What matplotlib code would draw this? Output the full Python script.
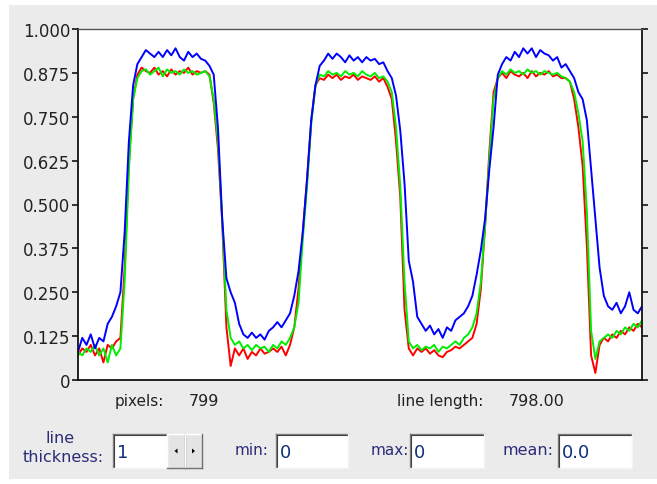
import numpy as np
import matplotlib.pyplot as plt
from matplotlib.patches import Rectangle, Polygon

W, H = 657, 485

# profile samples, one every 6 pixels along the 799 px line
x = np.arange(0, 799, 6)

red = [0.07, 0.09, 0.08, 0.10, 0.07, 0.09, 0.05, 0.10, 0.09, 0.11,
       0.12, 0.32, 0.62, 0.80, 0.87, 0.89, 0.88, 0.875, 0.89, 0.87,
       0.88, 0.865, 0.885, 0.87, 0.88, 0.875, 0.89, 0.87, 0.88, 0.875,
       0.88, 0.87, 0.79, 0.66, 0.45, 0.15, 0.04, 0.09, 0.07, 0.09,
       0.06, 0.08, 0.07, 0.09, 0.075, 0.08, 0.09, 0.08, 0.095, 0.07,
       0.10, 0.15, 0.26, 0.42, 0.57, 0.74, 0.84, 0.86, 0.855, 0.87,
       0.86, 0.87, 0.855, 0.865, 0.86, 0.87, 0.855, 0.865, 0.86, 0.855,
       0.865, 0.85, 0.86, 0.835, 0.80, 0.68, 0.52, 0.20, 0.09, 0.07,
       0.09, 0.08, 0.09, 0.075, 0.085, 0.07, 0.065, 0.08, 0.085, 0.095,
       0.09, 0.10, 0.11, 0.12, 0.16, 0.26, 0.44, 0.65, 0.82, 0.86,
       0.875, 0.86, 0.88, 0.87, 0.865, 0.875, 0.86, 0.88, 0.865, 0.875,
       0.87, 0.88, 0.865, 0.87, 0.86, 0.86, 0.85, 0.80, 0.72, 0.61,
       0.38, 0.07, 0.02, 0.10, 0.12, 0.11, 0.13, 0.12, 0.14, 0.13,
       0.15, 0.14, 0.16, 0.15]

green = [0.08, 0.07, 0.09, 0.08, 0.10, 0.07, 0.09, 0.05, 0.10, 0.07,
         0.09, 0.28, 0.60, 0.80, 0.86, 0.88, 0.885, 0.87, 0.88, 0.89,
         0.865, 0.885, 0.875, 0.88, 0.87, 0.885, 0.875, 0.88, 0.87, 0.875,
         0.88, 0.865, 0.80, 0.68, 0.46, 0.20, 0.12, 0.10, 0.11, 0.09,
         0.10, 0.085, 0.10, 0.09, 0.095, 0.08, 0.10, 0.09, 0.11, 0.10,
         0.12, 0.15, 0.22, 0.40, 0.55, 0.73, 0.84, 0.87, 0.865, 0.88,
         0.87, 0.875, 0.865, 0.88, 0.87, 0.875, 0.865, 0.88, 0.87, 0.865,
         0.875, 0.86, 0.865, 0.85, 0.82, 0.72, 0.55, 0.28, 0.11, 0.09,
         0.10, 0.085, 0.095, 0.09, 0.10, 0.08, 0.095, 0.09, 0.10, 0.11,
         0.10, 0.12, 0.13, 0.15, 0.19, 0.28, 0.44, 0.63, 0.80, 0.86,
         0.88, 0.87, 0.885, 0.875, 0.88, 0.87, 0.885, 0.875, 0.88, 0.87,
         0.88, 0.875, 0.87, 0.875, 0.865, 0.86, 0.85, 0.82, 0.76, 0.68,
         0.48, 0.14, 0.06, 0.11, 0.12, 0.13, 0.12, 0.14, 0.13, 0.15,
         0.14, 0.16, 0.15, 0.17]

blue = [0.08, 0.12, 0.10, 0.13, 0.09, 0.12, 0.11, 0.16, 0.18, 0.21,
        0.25, 0.42, 0.68, 0.84, 0.90, 0.92, 0.94, 0.93, 0.92, 0.935,
        0.92, 0.94, 0.925, 0.945, 0.92, 0.91, 0.935, 0.92, 0.93, 0.915,
        0.91, 0.895, 0.87, 0.72, 0.46, 0.29, 0.25, 0.22, 0.16, 0.13,
        0.12, 0.135, 0.12, 0.13, 0.115, 0.14, 0.15, 0.165, 0.15, 0.17,
        0.19, 0.24, 0.31, 0.42, 0.57, 0.74, 0.84, 0.895, 0.91, 0.93,
        0.915, 0.93, 0.92, 0.905, 0.925, 0.91, 0.92, 0.905, 0.92, 0.91,
        0.915, 0.90, 0.905, 0.88, 0.86, 0.81, 0.71, 0.56, 0.34, 0.28,
        0.18, 0.16, 0.14, 0.155, 0.13, 0.145, 0.12, 0.15, 0.14, 0.17,
        0.18, 0.19, 0.21, 0.24, 0.30, 0.37, 0.46, 0.60, 0.72, 0.87,
        0.90, 0.92, 0.91, 0.935, 0.92, 0.945, 0.93, 0.945, 0.92, 0.94,
        0.93, 0.925, 0.91, 0.92, 0.89, 0.90, 0.88, 0.86, 0.82, 0.80,
        0.74, 0.60, 0.46, 0.32, 0.24, 0.21, 0.20, 0.22, 0.19, 0.21,
        0.25, 0.20, 0.19, 0.21]

yticks = [0, 0.125, 0.25, 0.375, 0.5, 0.625, 0.75, 0.875, 1.0]
ytick_labels = ['0', '0.125', '0.250', '0.375', '0.500', '0.625', '0.750', '0.875', '1.000']

LABEL = '#222222'
NAVY = '#2b2b78'
BOXTEXT = '#10307a'


def sunken_box(a, x0, y0, x1, y1):
    a.add_patch(Rectangle((x0, y0), x1 - x0, y1 - y0, facecolor='white', edgecolor='none'))
    a.plot([x0, x1], [y0, y0], color='#808080', lw=1)
    a.plot([x0, x0], [y0, y1], color='#808080', lw=1)
    a.plot([x0 + 1, x1 - 1], [y0 + 1, y0 + 1], color='#404040', lw=0.8)
    a.plot([x0 + 1, x0 + 1], [y0 + 1, y1 - 1], color='#404040', lw=0.8)
    a.plot([x0, x1], [y1, y1], color='#f4f4f4', lw=1)
    a.plot([x1, x1], [y0, y1], color='#f4f4f4', lw=1)


def raised_button(a, x0, y0, x1, y1, left):
    a.add_patch(Rectangle((x0, y0), x1 - x0, y1 - y0, facecolor='#e4e4e4', edgecolor='none'))
    a.plot([x0, x1], [y0, y0], color='white', lw=1)
    a.plot([x0, x0], [y0, y1], color='white', lw=1)
    a.plot([x0, x1], [y1, y1], color='#707070', lw=1)
    a.plot([x1, x1], [y0, y1], color='#707070', lw=1)
    cx, cy = (x0 + x1) / 2, (y0 + y1) / 2
    if left:
        tri = [(cx + 1.5, cy - 2.5), (cx + 1.5, cy + 2.5), (cx - 1.5, cy)]
    else:
        tri = [(cx - 1.5, cy - 2.5), (cx - 1.5, cy + 2.5), (cx + 1.5, cy)]
    a.add_patch(Polygon(tri, closed=True, facecolor='black', edgecolor='none'))


fig = plt.figure(figsize=(W / 100, H / 100), dpi=100, facecolor='white')

# window background and controls, drawn in pixel coordinates
bg = fig.add_axes([0, 0, 1, 1], zorder=0)
bg.set_xlim(0, W)
bg.set_ylim(H, 0)
bg.axis('off')
bg.add_patch(Rectangle((9, 6), W - 9, 474, facecolor='#ebebeb', edgecolor='none'))

bg.text(115, 402, 'pixels:', ha='left', va='center', fontsize=11, color=LABEL)
bg.text(189, 402, '799', ha='left', va='center', fontsize=11.5, color=LABEL)
bg.text(397, 402, 'line length:', ha='left', va='center', fontsize=11, color=LABEL)
bg.text(509, 402, '798.00', ha='left', va='center', fontsize=11.5, color=LABEL)

bg.text(60, 439, 'line', ha='center', va='center', fontsize=11.5, color=NAVY)
bg.text(104, 458, 'thickness:', ha='right', va='center', fontsize=11.5, color=NAVY)
bg.text(269, 451, 'min:', ha='right', va='center', fontsize=11, color=NAVY)
bg.text(409, 451, 'max:', ha='right', va='center', fontsize=11, color=NAVY)
bg.text(554, 451, 'mean:', ha='right', va='center', fontsize=11.5, color=NAVY)

sunken_box(bg, 113, 435, 167, 469)
raised_button(bg, 167, 435, 185, 469, True)
raised_button(bg, 185, 435, 202, 469, False)
sunken_box(bg, 276, 435, 348, 469)
sunken_box(bg, 410, 435, 484, 469)
sunken_box(bg, 558, 435, 632, 469)

bg.text(117, 453, '1', ha='left', va='center', fontsize=13, color=BOXTEXT)
bg.text(280, 453, '0', ha='left', va='center', fontsize=13, color=BOXTEXT)
bg.text(414, 453, '0', ha='left', va='center', fontsize=13, color=BOXTEXT)
bg.text(562, 453, '0.0', ha='left', va='center', fontsize=13, color=BOXTEXT)

# profile plot
ax = fig.add_axes([78 / W, 1 - 381 / H, 564 / W, 351 / H], zorder=1)
ax.set_facecolor('white')
ax.plot(x, red, color='#ff0000', lw=1.4)
ax.plot(x, green, color='#00ee00', lw=1.4)
ax.plot(x, blue, color='#0000ff', lw=1.4)

ax.set_xlim(0, 798)
ax.set_ylim(0, 1)
ax.set_xticks([])
ax.set_yticks(yticks)
ax.set_yticklabels(ytick_labels)
ax.tick_params(axis='y', direction='out', length=4.5, width=1.1, pad=1,
               labelsize=12, labelcolor=LABEL, left=True, right=True)

for side in ['left', 'bottom', 'right']:
    ax.spines[side].set_color('#111111')
    ax.spines[side].set_linewidth(1.3)
ax.spines['top'].set_color('#555555')
ax.spines['top'].set_linewidth(1.0)

fig.savefig('out.png', dpi=100, facecolor=fig.get_facecolor())
